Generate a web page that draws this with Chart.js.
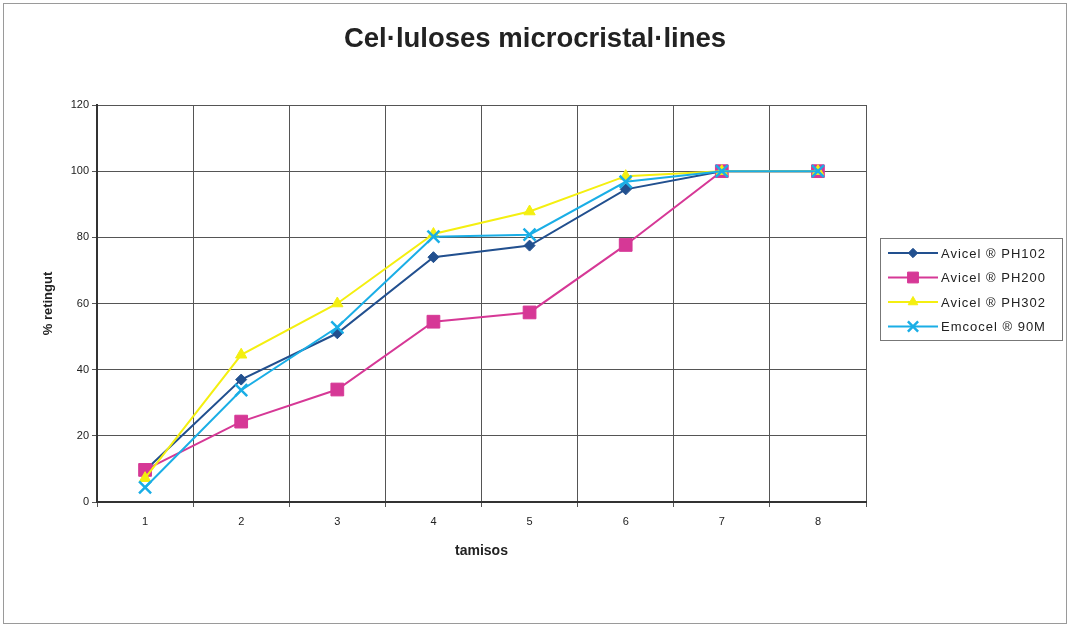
<!DOCTYPE html>
<html><head><meta charset="utf-8">
<script src="https://cdn.jsdelivr.net/npm/chart.js@4.4.0/dist/chart.umd.min.js"></script>
<style>html,body{margin:0;padding:0;background:#fff;} canvas{display:block;}</style>
</head><body>
<canvas id="c" width="1070" height="627"></canvas>
<script>
const categories = ['1', '2', '3', '4', '5', '6', '7', '8'];
const seriesNames = ['Avicel ® PH102', 'Avicel ® PH200', 'Avicel ® PH302', 'Emcocel ® 90M'];
const ph102 = [9.5, 37, 51, 74, 77.5, 94.5, 100, 100];
const ph200 = [9.7, 24.3, 34, 54.5, 57.3, 77.7, 100, 100];
const ph302 = [7.2, 44.5, 60, 81, 87.8, 98.5, 100, 100];
const emcocel = [4.4, 33.8, 52.8, 80.2, 80.8, 96.8, 100, 100];
const yTicks = [0, 20, 40, 60, 80, 100, 120];
const titleText = 'Cel·luloses microcristal·lines';
const xTitle = 'tamisos';
const yTitle = '% retingut';

const FONT = "Arial, 'Liberation Sans', sans-serif";

const styles = [
  { color: '#22508f', point: 'rectRot', r: 5.5, bw: 1 },
  { color: '#d63896', point: 'rect', r: 9, bw: 1 },
  { color: '#f4ef10', point: 'triangle', r: 6.5, bw: 1 },
  { color: '#1aaee6', point: 'crossRot', r: 8.5, bw: 2.5 }
];
const seriesData = [ph102, ph200, ph302, emcocel];

const datasets = seriesData.map((d, i) => ({
  label: seriesNames[i],
  data: d,
  borderColor: styles[i].color,
  backgroundColor: styles[i].color,
  pointBackgroundColor: styles[i].color,
  pointBorderColor: styles[i].color,
  pointStyle: styles[i].point,
  pointRadius: styles[i].r,
  pointBorderWidth: styles[i].bw,
  borderWidth: 2,
  tension: 0,
  fill: false,
  order: 3 - i
}));

const framePlugin = {
  id: 'frame',
  beforeDraw(chart) {
    const ctx = chart.ctx;
    ctx.save();
    ctx.fillStyle = '#fff';
    ctx.fillRect(0, 0, chart.width, chart.height);
    ctx.strokeStyle = '#9a9a9a';
    ctx.lineWidth = 1;
    ctx.strokeRect(3.5, 3.5, 1063, 620);
    ctx.restore();
  }
};

const legendPlugin = {
  id: 'boxLegend',
  afterDraw(chart) {
    const ctx = chart.ctx;
    const lx = 880, ly = 238, lw = 182, lh = 102;
    ctx.save();
    ctx.fillStyle = '#fff';
    ctx.fillRect(lx, ly, lw, lh);
    ctx.strokeStyle = '#777';
    ctx.lineWidth = 1;
    ctx.strokeRect(lx + 0.5, ly + 0.5, lw, lh);
    chart.data.datasets.forEach((ds, i) => {
      const y = 253 + i * 24.5;
      ctx.strokeStyle = ds.borderColor;
      ctx.lineWidth = 2;
      ctx.beginPath();
      ctx.moveTo(888, y);
      ctx.lineTo(938, y);
      ctx.stroke();
      ctx.fillStyle = ds.pointBackgroundColor;
      ctx.strokeStyle = ds.pointBorderColor;
      ctx.lineWidth = ds.pointBorderWidth;
      Chart.helpers.drawPoint(ctx, {
        pointStyle: ds.pointStyle,
        radius: ds.pointRadius * 0.85,
        rotation: 0,
        borderWidth: ds.pointBorderWidth
      }, 913, y);
      ctx.fillStyle = '#222';
      ctx.font = '13px ' + FONT;
      ctx.letterSpacing = '1px';
      ctx.textAlign = 'left';
      ctx.textBaseline = 'middle';
      ctx.fillText(ds.label, 941, y + 1);
      ctx.letterSpacing = '0px';
    });
    ctx.restore();
  }
};

new Chart(document.getElementById('c'), {
  type: 'line',
  data: { labels: categories, datasets },
  plugins: [framePlugin, legendPlugin],
  options: {
    responsive: false,
    animation: false,
    devicePixelRatio: 1,
    layout: { padding: { left: 0, right: 0, top: 0, bottom: 0 } },
    plugins: {
      legend: { display: false },
      tooltip: { enabled: false },
      title: {
        display: true,
        text: titleText,
        color: '#222',
        font: { family: FONT, size: 27.5, weight: 'bold', lineHeight: 1.2 },
        padding: { top: 23, bottom: 49 }
      }
    },
    scales: {
      x: {
        type: 'category',
        offset: true,
        afterFit(scale) { scale.height = 125; },
        grid: { offset: true, color: '#555', lineWidth: 1, tickLength: 5, drawTicks: true },
        border: { display: true, color: '#333', width: 2 },
        ticks: { color: '#222', font: { family: FONT, size: 11 }, padding: 8, maxRotation: 0 },
        title: {
          display: true, text: xTitle, color: '#222',
          font: { family: FONT, size: 14, weight: 'bold', lineHeight: 1.2 },
          padding: { top: 0, bottom: 67.6 }
        }
      },
      y: {
        min: yTicks[0],
        max: yTicks[yTicks.length - 1],
        afterFit(scale) { scale.width = 97; },
        afterBuildTicks(scale) { scale.ticks = yTicks.map(v => ({ value: v })); },
        grid: { color: '#555', lineWidth: 1, tickLength: 5, drawTicks: true },
        border: { display: true, color: '#333', width: 2 },
        ticks: { color: '#222', font: { family: FONT, size: 11 }, padding: 3 },
        title: {
          display: true, text: yTitle, color: '#222',
          font: { family: FONT, size: 13, weight: 'bold', lineHeight: 1.2 },
          padding: { top: 41, bottom: 0 }
        }
      },
      legendSpace: {
        type: 'linear',
        position: 'right',
        display: true,
        min: 0,
        max: 1,
        afterFit(scale) { scale.width = 204; },
        grid: { display: false, drawOnChartArea: false, drawTicks: false },
        border: { display: false },
        ticks: { display: false }
      }
    }
  }
});
</script>
</body></html>
